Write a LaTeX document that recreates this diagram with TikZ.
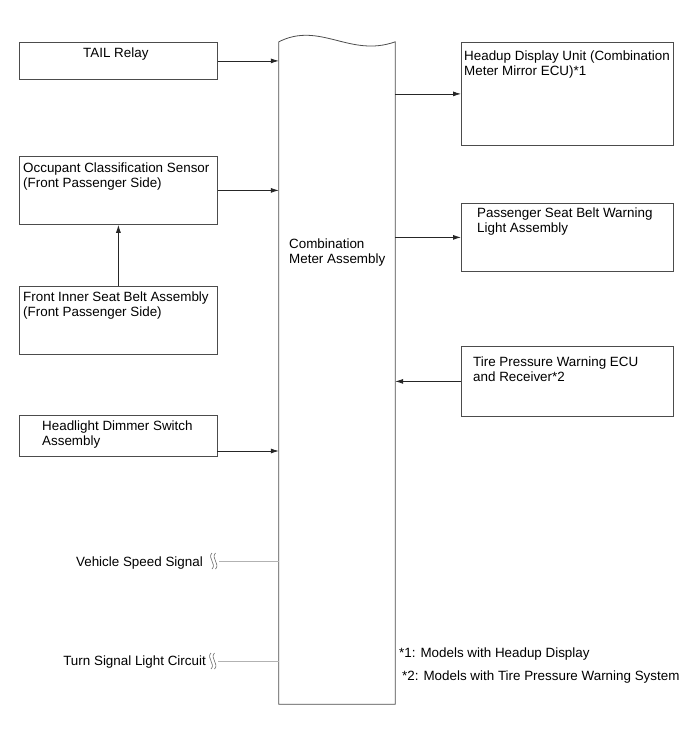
\documentclass[tikz,border=0pt]{standalone}
\usepackage{fontspec}
\setmainfont{Liberation Sans}
\usetikzlibrary{arrows.meta,positioning,calc}

\tikzset{
  blk/.style={draw=black!70, line width=0.8pt, anchor=north west, inner sep=0pt},
  lbl/.style={anchor=base west, inner sep=0pt, align=left, font=\fontsize{13.4}{15}\selectfont},
  link/.style={draw=black!85, line width=0.8pt, -{Latex[length=8pt,width=5pt]}},
  feed/.style={draw=black!30, line width=1pt},
}

% wavy break mark: two strokes at (x,y)
\newcommand{\brksym}[2]{%
  \foreach \dx in {0,3.5}{
    \draw[black!60, line width=0.6pt] (#1+\dx,#2-8) .. controls (#1+\dx-5,#2-3) and (#1+\dx+5,#2+3) .. (#1+\dx,#2+8);
  }}

\begin{document}
\begin{tikzpicture}[x=1pt,y=-1pt,>=Latex]
\useasboundingbox (0,0) rectangle (690,756);

% left side (two-line labels sit on their last line)
\node[blk, minimum width=198, minimum height=37] (tail) at (19,42) {};
\node[lbl] (tail-t) at (83,57) {TAIL Relay};
\node[blk, minimum width=198, minimum height=68] (ocs) at (19,156) {};
\node[lbl] (ocs-t) at (23,187) {Occupant Classification Sensor\\(Front Passenger Side)};
\node[blk, minimum width=198, minimum height=68] (fib) at (19,286) {};
\node[lbl] (fib-t) at (23,316) {Front Inner Seat Belt Assembly\\(Front Passenger Side)};
\node[blk, minimum width=198, minimum height=41] (hds) at (19,415) {};
\node[lbl] (hds-t) at (42,445) {Headlight Dimmer Switch\\Assembly};
\node[lbl, anchor=base east] (vss) at (203,566) {Vehicle Speed Signal};
\node[lbl, anchor=base east] (tsl) at (206,665) {Turn Signal Light Circuit};

% meter
\node[inner sep=0pt, minimum width=116, minimum height=662] (cma) at (337,373) {};
\draw[black!70, line width=0.8pt] (cma.south west) -- (cma.north west)
  .. controls (320,21) and (350,58) .. (cma.north east) -- (cma.south east) -- cycle;
\node[lbl] (cma-t) at (289,263) {Combination\\Meter Assembly};

% right side
\node[blk, minimum width=212, minimum height=103] (hud) at (461,42) {};
\node[lbl] (hud-t) at (464,75) {Headup Display Unit (Combination\\Meter Mirror ECU)*1};
\node[blk, minimum width=212, minimum height=68] (psb) at (461,203) {};
\node[lbl] (psb-t) at (477,232) {Passenger Seat Belt Warning\\Light Assembly};
\node[blk, minimum width=212, minimum height=70] (tpw) at (461,346) {};
\node[lbl] (tpw-t) at (473,381) {Tire Pressure Warning ECU\\and Receiver*2};

\node[lbl] (note1) at (399,657) {*1: Models with Headup Display};
\node[lbl] (note2) at (402,680) {*2: Models with Tire Pressure Warning System};

% connections
\draw[link] (tail.east) -- (tail.east -| cma.west);
\draw[link] (ocs.east) -- (ocs.east -| cma.west);
\draw[link] (fib.north) -- (ocs.south);
\coordinate (hds-o) at (217,451);
\draw[link] (hds-o) -- (hds-o -| cma.west);
\draw[link] (cma.east |- hud.west) -- (hud.west);
\draw[link] (cma.east |- psb.west) -- (psb.west);
\draw[link] (tpw.west) -- (tpw.west -| cma.east);

\coordinate (vss-b) at (219,561);
\coordinate (tsl-b) at (218,661);
\brksym{212}{561}
\brksym{211}{661}
\draw[feed] (vss-b) -- (vss-b -| cma.west);
\draw[feed] (tsl-b) -- (tsl-b -| cma.west);
\end{tikzpicture}
\end{document}
